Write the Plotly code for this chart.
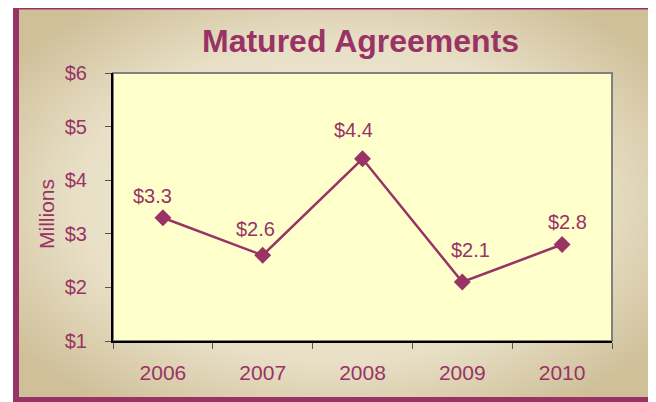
import base64
import plotly.graph_objects as go

# Data
years = ["2006", "2007", "2008", "2009", "2010"]
values = [3.3, 2.6, 4.4, 2.1, 2.8]
y_ticks = [1, 2, 3, 4, 5, 6]

# label nudges (px) so the value labels sit like the original's
label_dx = [-10, -7, -9, 8, 5]
label_dy = [9, 13, 16, 19, 10]

# page body has an 8px margin, so the figure is shrunk by that and coords shifted
OFF = 8
W, H = 656 - OFF, 402 - OFF
PURPLE = "#993366"
FONT = "Liberation Sans, Arial, sans-serif"
DOLLAR = "&#36;"  # html entity so plotly never sees a bare dollar sign


def px(x):
    return (x - OFF) / W


def py(y):
    return 1 - (y - OFF) / H


# tan gradient for the chart area (radial, light centre)
svg = f"""<svg xmlns='http://www.w3.org/2000/svg' width='640' height='394' preserveAspectRatio='none'>
<defs><radialGradient id='g' cx='50%' cy='50%' r='62%'>
<stop offset='0%' stop-color='#f4efe2'/>
<stop offset='65%' stop-color='#e8dfc6'/>
<stop offset='100%' stop-color='#cfc099'/>
</radialGradient></defs>
<rect width='640' height='394' fill='url(#g)'/></svg>"""
bg_src = "data:image/svg+xml;base64," + base64.b64encode(svg.encode()).decode()

fig = go.Figure()
fig.add_trace(go.Scatter(
    x=years, y=values, mode="lines+markers",
    line=dict(color=PURPLE, width=2.5),
    marker=dict(symbol="diamond", size=13, color=PURPLE),
    hoverinfo="skip", showlegend=False,
))

annotations = []
for i, v in enumerate(values):
    annotations.append(dict(
        x=i, y=v, xref="x", yref="y", text=f"{DOLLAR}{v:.1f}", showarrow=False,
        xshift=label_dx[i], yshift=label_dy[i], yanchor="bottom",
        font=dict(size=20, color=PURPLE, family=FONT),
    ))

annotations.append(dict(
    x=px(360), y=py(41), xref="paper", yref="paper", text="<b>Matured Agreements</b>",
    showarrow=False, xanchor="center", yanchor="middle",
    font=dict(size=32, color=PURPLE, family=FONT),
))
annotations.append(dict(
    x=px(46), y=py(214), xref="paper", yref="paper", text="Millions", textangle=-90,
    showarrow=False, xanchor="center", yanchor="middle",
    font=dict(size=21, color=PURPLE, family=FONT),
))

fig.update_layout(
    width=W, height=H,
    margin=dict(l=0, r=0, t=0, b=0, autoexpand=False),
    paper_bgcolor="white",
    plot_bgcolor="#ffffcc",
    font=dict(family=FONT, color=PURPLE),
    annotations=annotations,
    images=[dict(
        source=bg_src, xref="paper", yref="paper", x=px(15), y=py(6),
        sizex=640 / W, sizey=394 / H, sizing="stretch", layer="below",
        xanchor="left", yanchor="top",
    )],
    shapes=[
        # outer purple frame
        dict(type="rect", xref="paper", yref="paper",
             x0=px(16), x1=px(653), y0=py(400), y1=py(6.5),
             line=dict(color=PURPLE, width=6)),
        # yellow plot area with grey border (top/right)
        dict(type="rect", xref="x domain", yref="y domain",
             x0=0, x1=1, y0=0, y1=1, line=dict(color="#808080", width=2),
             fillcolor="#ffffcc", layer="below"),
    ],
    xaxis=dict(
        domain=[px(113), px(612)], range=[-0.5, 4.5], type="category",
        showgrid=False, showline=True, linecolor="black", linewidth=2,
        ticks="outside", ticklen=6, tickcolor="#555555", tickson="boundaries",
        tickfont=dict(size=21, color=PURPLE, family=FONT), ticklabelstandoff=12,
        automargin=False, fixedrange=True,
    ),
    yaxis=dict(
        domain=[py(341), py(73)], range=[1, 6], tickvals=y_ticks,
        ticktext=[f"{DOLLAR}{t}" for t in y_ticks], showgrid=False, zeroline=False,
        showline=True, linecolor="black", linewidth=2,
        ticks="outside", ticklen=6, tickcolor="#555555",
        tickfont=dict(size=20, color=PURPLE, family=FONT), ticklabelstandoff=14,
        automargin=False, fixedrange=True,
    ),
)

fig.write_html("out.html")
